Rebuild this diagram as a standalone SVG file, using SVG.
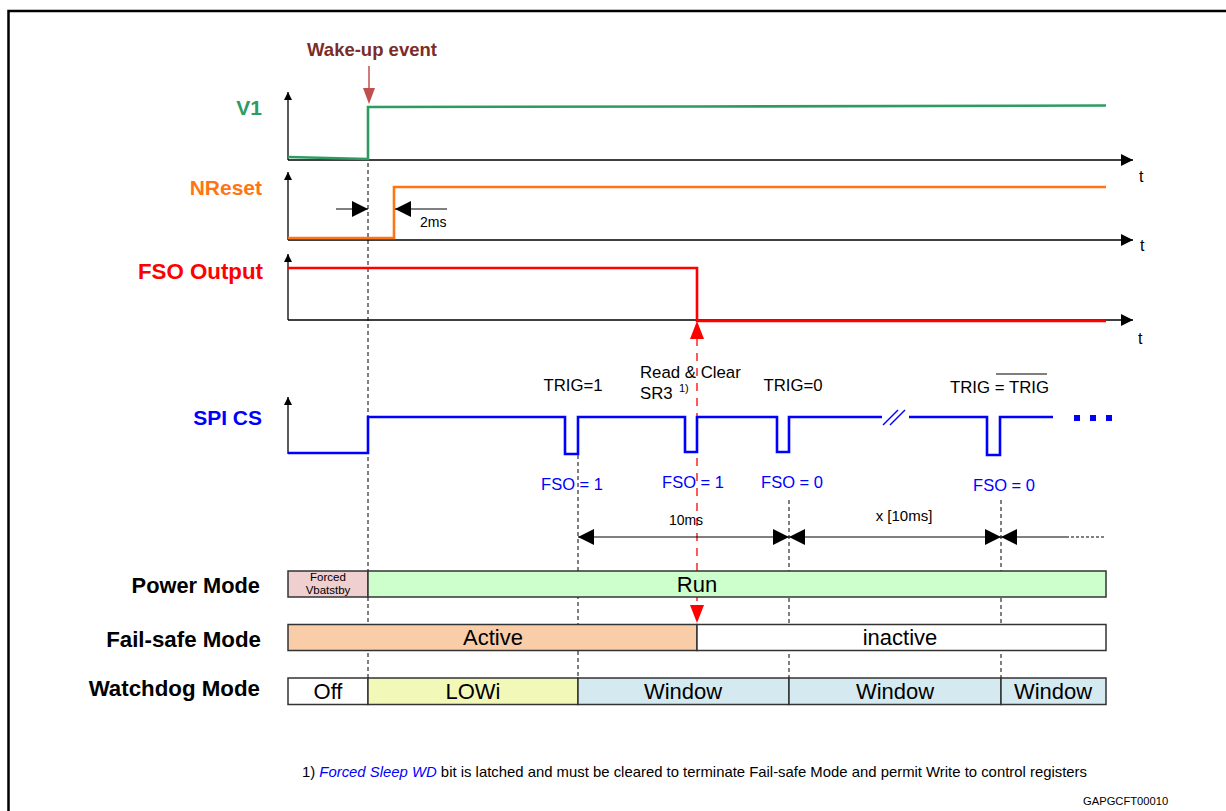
<svg xmlns="http://www.w3.org/2000/svg" width="1226" height="811" viewBox="0 0 1226 811">
<defs>
<style>
.axis{stroke:#000;stroke-width:1.3;fill:none}
.sig{fill:none;stroke-width:2.6;stroke-linejoin:miter}
.dash{stroke:#000;stroke-width:1;stroke-dasharray:4,3;fill:none}
.lbl{font-family:"Liberation Sans",Arial,sans-serif;font-weight:bold;font-size:21px;text-anchor:end}
.t{font-family:"Liberation Sans",Arial,sans-serif;font-size:16px;fill:#000}
.txt{font-family:"Liberation Sans",Arial,sans-serif;fill:#000}
.box{stroke:#333;stroke-width:1.5}
.boxt{font-family:"Liberation Sans",Arial,sans-serif;font-size:22px;text-anchor:middle;fill:#000}
.fso{font-family:"Liberation Sans",Arial,sans-serif;font-size:16.5px;fill:#0000ff;text-anchor:middle}
.dim{stroke:#000;stroke-width:1;fill:none}
</style>
<marker id="ah" viewBox="0 0 10 10" refX="10" refY="5" markerWidth="8" markerHeight="8" markerUnits="userSpaceOnUse" orient="auto"><path d="M0,0 L10,5 L0,10 z" fill="#000"/></marker>
<marker id="ahr" viewBox="0 0 10 10" refX="10" refY="5" markerWidth="12" markerHeight="12" markerUnits="userSpaceOnUse" orient="auto"><path d="M0,0 L10,5 L0,10 z" fill="#000"/></marker>
<marker id="ahd" viewBox="0 0 10 10" refX="10" refY="5" markerWidth="16" markerHeight="16" markerUnits="userSpaceOnUse" orient="auto"><path d="M0,0 L10,5 L0,10 z" fill="#000"/></marker>
</defs>
<rect width="1226" height="811" fill="#fff"/>
<path d="M8.5,811 V11 H1226" fill="none" stroke="#000" stroke-width="2.5"/>

<g id="wakeup">
<text x="372" y="56" class="txt" font-size="18.5" font-weight="bold" text-anchor="middle" style="fill:#7b2c28">Wake-up event</text>
<line x1="369" y1="66" x2="369" y2="90" stroke="#c0504d" stroke-width="1.5"/>
<path d="M363,88 L375,88 L369,104 z" fill="#c0504d"/>
</g>

<g id="connectors">
<line x1="368" y1="107" x2="368" y2="678" class="dash"/>
<line x1="578" y1="455" x2="578" y2="678" class="dash"/>
<line x1="789" y1="500" x2="789" y2="678" class="dash"/>
<line x1="1001" y1="500" x2="1001" y2="678" class="dash"/>
<line x1="697" y1="338" x2="697" y2="606" stroke="#ff0000" stroke-width="1.3" stroke-dasharray="8,7"/>
<path d="M690,339 L704,339 L697,321 z" fill="#ff0000"/>
<path d="M690,605 L704,605 L697,623 z" fill="#ff0000"/>
</g>

<g id="v1">
<text x="262" y="115" class="lbl" fill="#2e9b62">V1</text>
<line x1="288" y1="160" x2="288" y2="92" class="axis" marker-end="url(#ah)"/>
<line x1="288" y1="160" x2="1133" y2="160" class="axis" marker-end="url(#ahr)"/>
<text x="1139" y="182" class="t">t</text>
<path d="M288,157 L368,159 L368,107 L700,106.5 L1106,105.5" class="sig" stroke="#2e9b62"/>
</g>

<g id="nreset">
<text x="262" y="195" class="lbl" fill="#ff7514">NReset</text>
<line x1="288" y1="240" x2="288" y2="172" class="axis" marker-end="url(#ah)"/>
<line x1="288" y1="240" x2="1133" y2="240" class="axis" marker-end="url(#ahr)"/>
<text x="1140" y="251" class="t">t</text>
<path d="M288,238 L394,238 L394,187 L1106,187" class="sig" stroke="#ff7514"/>
<line x1="336" y1="209" x2="368" y2="209" class="dim" marker-end="url(#ahd)"/>
<line x1="447" y1="209" x2="395" y2="209" class="dim" marker-end="url(#ahd)"/>
<text x="420" y="227" class="txt" font-size="14">2ms</text>
</g>

<g id="fso">
<text x="263" y="279" class="lbl" fill="#ff0000" style="font-size:22.3px">FSO Output</text>
<line x1="288" y1="320" x2="288" y2="254" class="axis" marker-end="url(#ah)"/>
<line x1="288" y1="320" x2="1133" y2="320" class="axis" marker-end="url(#ahr)"/>
<text x="1138" y="344" class="t">t</text>
<path d="M288,268 L697,268 L697,321 L1106,321" class="sig" stroke="#ff0000"/>
</g>

<g id="spics">
<text x="262" y="425" class="lbl" fill="#0000ff">SPI CS</text>
<line x1="288" y1="454" x2="288" y2="397" class="axis" marker-end="url(#ah)"/>
<path d="M288,453 L368,453 L368,417 L565,417 L565,454 L578,454 L578,417 L685,417 L685,452 L697,452 L697,417 L777,417 L777,452 L789,452 L789,417 L882,417" class="sig" stroke="#0000ff"/>
<line x1="883" y1="425" x2="898" y2="410" stroke="#0000ff" stroke-width="1.5"/>
<line x1="890" y1="425" x2="905" y2="410" stroke="#0000ff" stroke-width="1.5"/>
<path d="M909,417 L987,417 L987,455 L1000,455 L1000,417 L1053,417" class="sig" stroke="#0000ff"/>
<rect x="1074" y="415" width="6" height="6" fill="#0000ff"/>
<rect x="1090" y="415" width="6" height="6" fill="#0000ff"/>
<rect x="1106" y="415" width="6" height="6" fill="#0000ff"/>
<text x="573" y="391" class="txt" font-size="16.8" text-anchor="middle">TRIG=1</text>
<text x="640" y="378" class="txt" font-size="16.8">Read &amp; Clear</text>
<text x="640" y="399" class="txt" font-size="16.8">SR3</text>
<text x="679" y="392" class="txt" font-size="11">1)</text>
<text x="793" y="391" class="txt" font-size="16.8" text-anchor="middle">TRIG=0</text>
<text x="950" y="393" class="txt" font-size="16.8">TRIG = TRIG</text>
<line x1="996" y1="374" x2="1047" y2="374" stroke="#000" stroke-width="1.2"/>
<text x="572" y="490" class="fso">FSO = 1</text>
<text x="693" y="488" class="fso">FSO = 1</text>
<text x="792" y="488" class="fso">FSO = 0</text>
<text x="1004" y="491" class="fso">FSO = 0</text>
</g>

<g id="timing">
<line x1="683" y1="537" x2="578" y2="537" class="dim" marker-end="url(#ahd)"/>
<line x1="683" y1="537" x2="789" y2="537" class="dim" marker-end="url(#ahd)"/>
<text x="686" y="525" class="txt" font-size="14" text-anchor="middle">10ms</text>
<line x1="895" y1="537" x2="789" y2="537" class="dim" marker-end="url(#ahd)"/>
<line x1="895" y1="537" x2="1001" y2="537" class="dim" marker-end="url(#ahd)"/>
<text x="904" y="521" class="txt" font-size="15" text-anchor="middle">x [10ms]</text>
<line x1="1066" y1="537" x2="1001" y2="537" class="dim" marker-end="url(#ahd)"/>
<line x1="1066" y1="537" x2="1106" y2="537" stroke="#000" stroke-width="1" stroke-dasharray="3,2"/>
</g>

<g id="power-mode">
<text x="260" y="593" class="lbl" fill="#000" style="font-size:21.8px">Power Mode</text>
<rect x="288" y="571" width="80" height="26" fill="#efcfcf" class="box"/>
<rect x="368" y="571" width="738" height="26" fill="#ccffcc" class="box"/>
<text x="328" y="581" class="txt" font-size="11.5" text-anchor="middle">Forced</text>
<text x="328" y="594" class="txt" font-size="11.5" text-anchor="middle">Vbatstby</text>
<text x="697" y="592" class="boxt">Run</text>
</g>

<g id="failsafe-mode">
<text x="261" y="647" class="lbl" fill="#000" style="font-size:22.3px">Fail-safe Mode</text>
<rect x="288" y="624.5" width="409" height="26" fill="#f9cda8" class="box"/>
<rect x="697" y="624.5" width="409" height="26" fill="#fff" class="box"/>
<text x="493" y="645" class="boxt">Active</text>
<text x="900" y="645" class="boxt">inactive</text>
</g>

<g id="watchdog-mode">
<text x="260" y="696" class="lbl" fill="#000" style="font-size:22.3px">Watchdog Mode</text>
<rect x="288" y="678" width="80" height="26.5" fill="#fff" class="box"/>
<rect x="368" y="678" width="210" height="26.5" fill="#f2f8b8" class="box"/>
<rect x="578" y="678" width="211" height="26.5" fill="#d4eaf0" class="box"/>
<rect x="789" y="678" width="212" height="26.5" fill="#d4eaf0" class="box"/>
<rect x="1001" y="678" width="105" height="26.5" fill="#d4eaf0" class="box"/>
<text x="328" y="699" class="boxt">Off</text>
<text x="473" y="699" class="boxt">LOWi</text>
<text x="683" y="699" class="boxt">Window</text>
<text x="895" y="699" class="boxt">Window</text>
<text x="1053" y="699" class="boxt">Window</text>
</g>

<g id="footnote">
<text x="302" y="777" class="txt" font-size="14.8" textLength="785" lengthAdjust="spacingAndGlyphs">1) <tspan fill="#0000ff" font-style="italic">Forced Sleep WD</tspan> bit is latched and must be cleared to terminate Fail-safe Mode and permit Write to control registers</text>
<text x="1083" y="805" class="txt" font-size="11.2">GAPGCFT00010</text>
</g>
</svg>
